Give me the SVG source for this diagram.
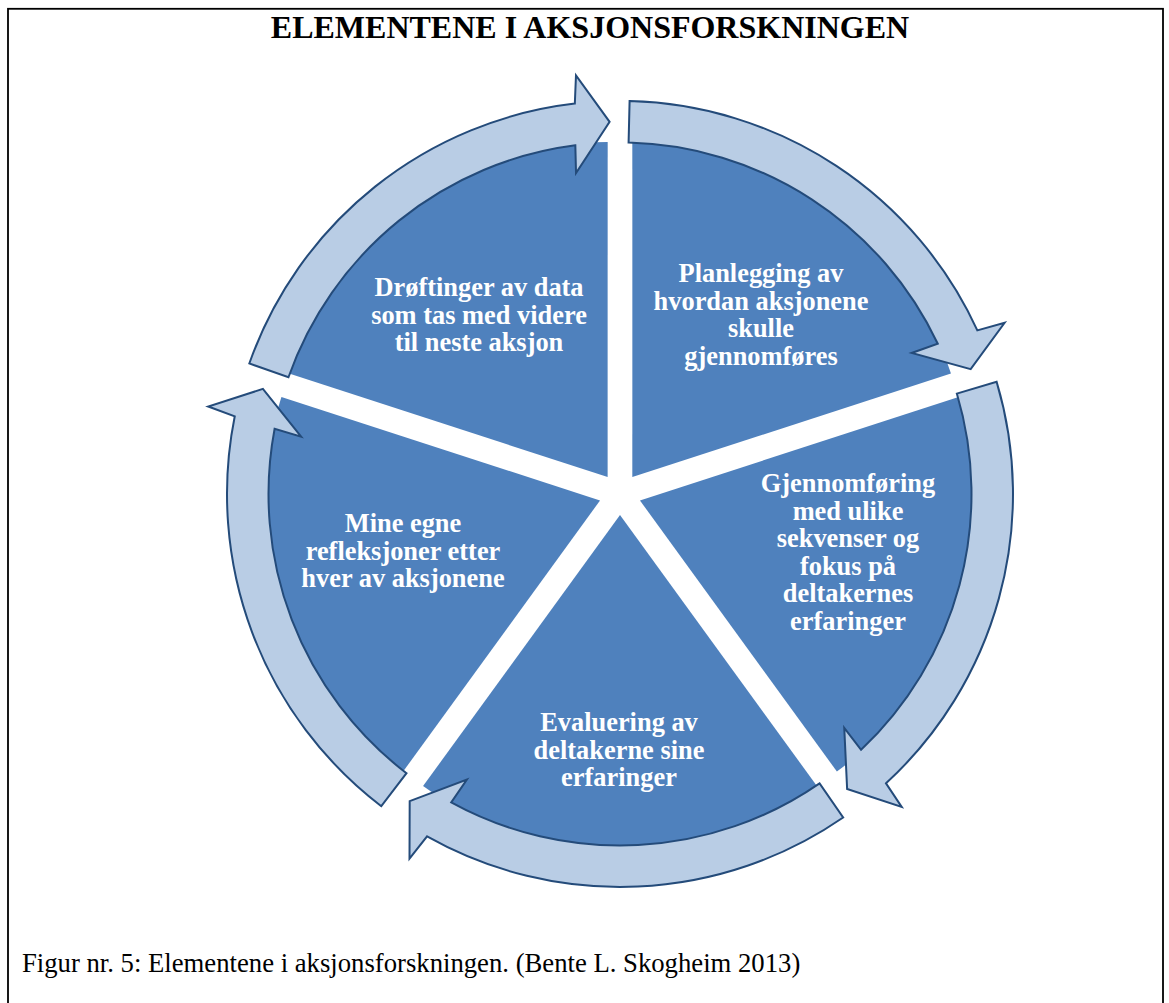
<svg xmlns="http://www.w3.org/2000/svg" xmlns:xlink="http://www.w3.org/1999/xlink" width="1169" height="1003" viewBox="0 0 1169 1003">
  <style>
    .seg { fill: #4F81BD; stroke: none; }
    .arrow { fill: #B9CDE5; stroke: #244B7A; stroke-width: 2; stroke-linejoin: miter; }
    .lbl { font-family: "Liberation Serif", "Times New Roman", serif; font-weight: bold; font-size: 26.4px; fill: #FFFFFF; text-anchor: middle; }
    .title { font-family: "Liberation Serif", "Times New Roman", serif; font-weight: bold; font-size: 32px; fill: #000000; text-anchor: middle; }
    .caption { font-family: "Liberation Serif", "Times New Roman", serif; font-size: 26.7px; fill: #000000; }
  </style>
  <defs>
    <path id="segShape" d="M 632.34 477.01 L 632.34 142.01 A 335 335 0 0 1 950.95 373.49 Z"/>
    <path id="arrowShape" d="M 629.60 101.12 A 393 393 0 0 1 977.33 330.40 L 1004.60 322.76 L 970.68 369.13 L 911.70 352.99 L 937.78 343.78 A 351.5 351.5 0 0 0 628.59 142.61 Z"/>
  </defs>
  <rect x="0" y="0" width="1169" height="1003" fill="#FFFFFF"/>
  <rect x="8" y="8.8" width="1155" height="1010" fill="none" stroke="#000000" stroke-width="1.8"/>
  <text class="title" x="590" y="38">ELEMENTENE I AKSJONSFORSKNINGEN</text>

  <g id="node-planlegging">
    <use xlink:href="#segShape" href="#segShape" class="seg"/>
  </g>
  <g id="node-gjennomforing">
    <use xlink:href="#segShape" href="#segShape" class="seg" transform="rotate(72 620 494)"/>
  </g>
  <g id="node-evaluering">
    <use xlink:href="#segShape" href="#segShape" class="seg" transform="rotate(144 620 494)"/>
  </g>
  <g id="node-refleksjoner">
    <use xlink:href="#segShape" href="#segShape" class="seg" transform="rotate(216 620 494)"/>
  </g>
  <g id="node-drofting">
    <use xlink:href="#segShape" href="#segShape" class="seg" transform="rotate(288 620 494)"/>
  </g>

  <g id="connectors">
    <use xlink:href="#arrowShape" href="#arrowShape" class="arrow"/>
    <use xlink:href="#arrowShape" href="#arrowShape" class="arrow" transform="rotate(72 620 494)"/>
    <use xlink:href="#arrowShape" href="#arrowShape" class="arrow" transform="rotate(144 620 494)"/>
    <use xlink:href="#arrowShape" href="#arrowShape" class="arrow" transform="rotate(216 620 494)"/>
    <use xlink:href="#arrowShape" href="#arrowShape" class="arrow" transform="rotate(288 620 494)"/>
  </g>

  <g id="labels">
    <text class="lbl" x="761" y="282">Planlegging av</text>
    <text class="lbl" x="761" y="309.5">hvordan aksjonene</text>
    <text class="lbl" x="761" y="337">skulle</text>
    <text class="lbl" x="761" y="364.5">gjennomføres</text>

    <text class="lbl" x="848" y="492">Gjennomføring</text>
    <text class="lbl" x="848" y="519.5">med ulike</text>
    <text class="lbl" x="848" y="547">sekvenser og</text>
    <text class="lbl" x="848" y="574.5">fokus på</text>
    <text class="lbl" x="848" y="602">deltakernes</text>
    <text class="lbl" x="848" y="629.5">erfaringer</text>

    <text class="lbl" x="619" y="731">Evaluering av</text>
    <text class="lbl" x="619" y="758.5">deltakerne sine</text>
    <text class="lbl" x="619" y="786">erfaringer</text>

    <text class="lbl" x="403" y="532">Mine egne</text>
    <text class="lbl" x="403" y="559.5">refleksjoner etter</text>
    <text class="lbl" x="403" y="587">hver av aksjonene</text>

    <text class="lbl" x="479" y="296">Drøftinger av data</text>
    <text class="lbl" x="479" y="323.5">som tas med videre</text>
    <text class="lbl" x="479" y="351">til neste aksjon</text>
  </g>

  <text class="caption" x="22" y="972">Figur nr. 5: Elementene i aksjonsforskningen. (Bente L. Skogheim 2013)</text>
</svg>
